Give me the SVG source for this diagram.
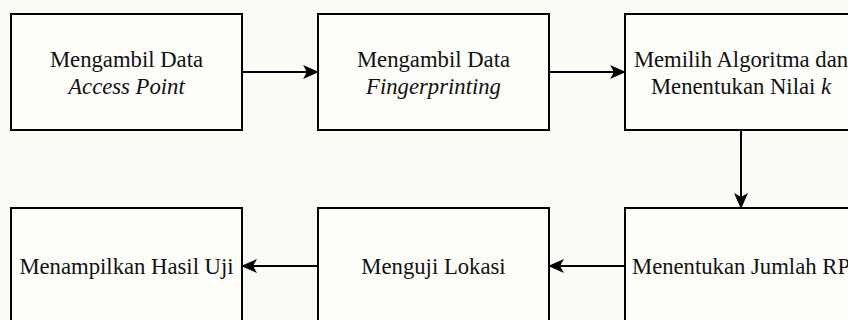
<svg xmlns="http://www.w3.org/2000/svg" width="848" height="320" viewBox="0 0 848 320">
<style>
.box{fill:#fdfdf9;stroke:#000;stroke-width:2}
.i{font-style:italic}
.c{stroke:#000;stroke-width:2;fill:none}
</style>
<defs>
<marker id="ah" viewBox="0 0 16 14" refX="15" refY="7" markerWidth="16" markerHeight="14" markerUnits="userSpaceOnUse" orient="auto">
<path d="M0,0 L16,7 L0,14 L4,7 Z" fill="#000"/>
</marker>
</defs>
<rect width="848" height="320" fill="#fbfbf6"/>
<g font-family="Liberation Serif" font-size="22.7" fill="#111" text-anchor="middle">
<g id="n1"><rect class="box" x="11" y="14" width="231" height="116"/>
<text x="126.5" y="67">Mengambil Data</text>
<text class="i" x="126.5" y="94">Access Point</text></g>
<g id="n2"><rect class="box" x="318" y="14" width="231" height="116"/>
<text x="433.5" y="67">Mengambil Data</text>
<text class="i" x="433.5" y="94">Fingerprinting</text></g>
<g id="n3"><rect class="box" x="625" y="14" width="232" height="116"/>
<text x="741" y="67">Memilih Algoritma dan</text>
<text x="741" y="94">Menentukan Nilai <tspan class="i">k</tspan></text></g>
<g id="n4"><rect class="box" x="11" y="208" width="231" height="116"/>
<text x="126.5" y="274">Menampilkan Hasil Uji</text></g>
<g id="n5"><rect class="box" x="318" y="208" width="231" height="116"/>
<text x="433.5" y="274">Menguji Lokasi</text></g>
<g id="n6"><rect class="box" x="625" y="208" width="232" height="116"/>
<text x="741" y="274">Menentukan Jumlah RP</text></g>
</g>
<g id="connectors">
<line class="c" x1="242" y1="72" x2="318" y2="72" marker-end="url(#ah)"/>
<line class="c" x1="549" y1="72" x2="625" y2="72" marker-end="url(#ah)"/>
<line class="c" x1="741" y1="130" x2="741" y2="208" marker-end="url(#ah)"/>
<line class="c" x1="625" y1="266" x2="549" y2="266" marker-end="url(#ah)"/>
<line class="c" x1="318" y1="266" x2="242" y2="266" marker-end="url(#ah)"/>
</g>
</svg>
